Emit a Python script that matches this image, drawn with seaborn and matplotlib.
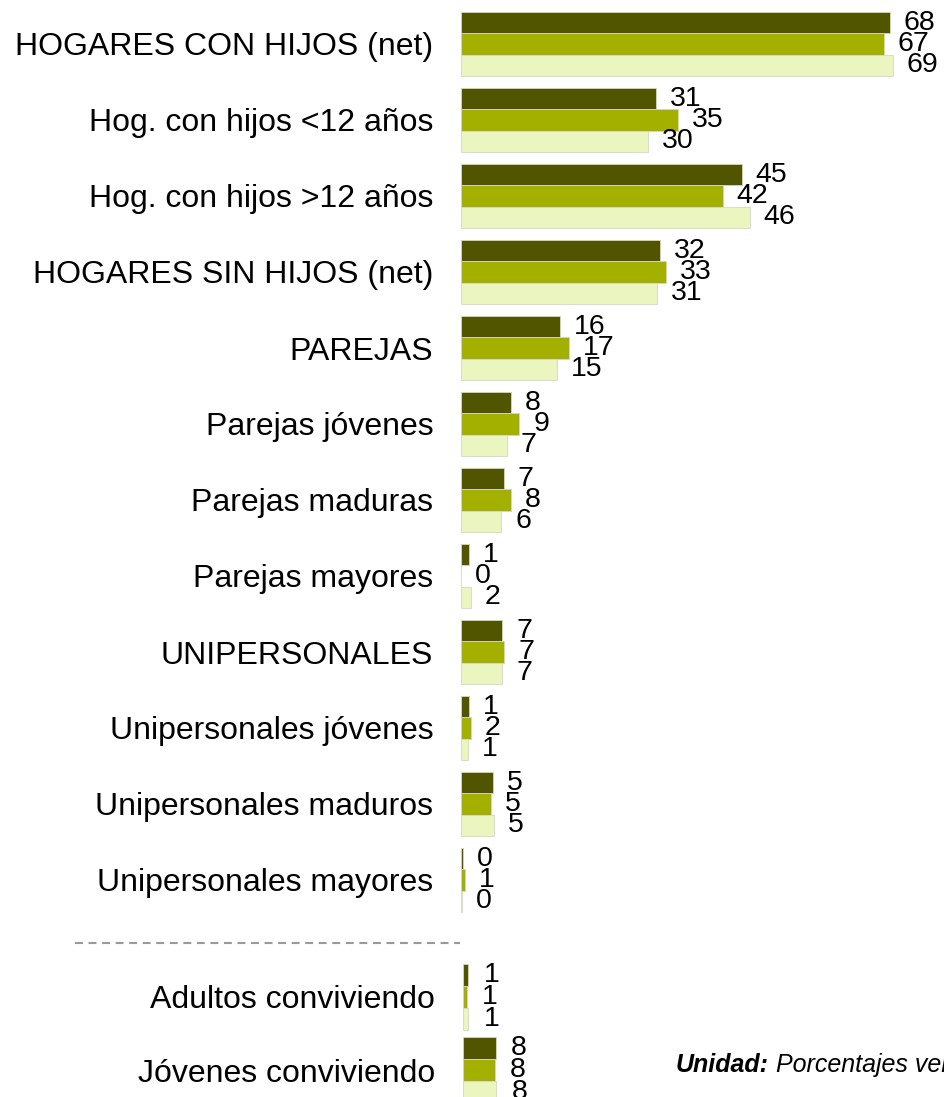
import matplotlib
matplotlib.use("Agg")
import matplotlib.pyplot as plt
from matplotlib.lines import Line2D
import seaborn as sns
import pandas as pd

# main block
categorias = ["HOGARES CON HIJOS (net)", "Hog. con hijos <12 años", "Hog. con hijos >12 años",
              "HOGARES SIN HIJOS (net)", "PAREJAS", "Parejas jóvenes", "Parejas maduras",
              "Parejas mayores", "UNIPERSONALES", "Unipersonales jóvenes",
              "Unipersonales maduros", "Unipersonales mayores"]
serie_1 = [68.3, 31.1, 44.7, 31.7, 15.8, 7.9, 6.8, 1.2, 6.6, 1.3, 5.1, 0.3]
serie_2 = [67.3, 34.6, 41.7, 32.6, 17.2, 9.3, 8.0, 0.0, 6.9, 1.6, 4.8, 0.6]
serie_3 = [68.8, 29.7, 46.0, 31.2, 15.3, 7.3, 6.4, 1.6, 6.6, 1.1, 5.2, 0.2]

# block below the dashed line
categorias_extra = ["Adultos conviviendo", "Jóvenes conviviendo"]
extra_1 = [1.3, 8.0]
extra_2 = [0.9, 7.7]
extra_3 = [1.3, 8.1]

series = ["Serie 1", "Serie 2", "Serie 3"]
colores = ["#525500", "#a3b000", "#ebf5c0"]


def tabla(cats, *valores):
    filas = []
    for nombre, vals in zip(series, valores):
        for c, v in zip(cats, vals):
            filas.append({"categoria": c, "serie": nombre, "valor": v})
    return pd.DataFrame(filas)


def barras(ax, df, cats, ancho, xmax, pad_lbl):
    sns.barplot(data=df, y="categoria", x="valor", hue="serie", order=cats,
                hue_order=series, palette=colores, saturation=1, width=ancho,
                orient="h", legend=False, edgecolor="#d6d6c4", linewidth=0.6, ax=ax)
    for cont in ax.containers:
        ax.bar_label(cont, fmt="{:.0f}", padding=pad_lbl, fontsize=20.5, color="black")
    ax.set_xlim(0, xmax)
    ax.set_ylim(len(cats) - 0.5, -0.5)
    ax.set_xlabel("")
    ax.set_ylabel("")
    ax.set_xticks([])
    ax.tick_params(axis="y", length=0, pad=20, labelsize=23, labelcolor="black")
    sns.despine(ax=ax, left=True, bottom=True)


sns.set_style("white")
plt.rcParams["font.family"] = ["Liberation Sans", "DejaVu Sans"]
plt.rcParams["text.color"] = "black"

W, H = 945, 1097
fig = plt.figure(figsize=(W / 100, H / 100), dpi=100)

ax1 = fig.add_axes([461 / W, (H - 918) / H, 471 / W, 912 / H])
barras(ax1, tabla(categorias, serie_1, serie_2, serie_3), categorias, 0.84, 75, 10)

ax2 = fig.add_axes([463 / W, (H - 1106.5) / H, 469 / W, 146 / H])
barras(ax2, tabla(categorias_extra, extra_1, extra_2, extra_3), categorias_extra, 0.9, 469 / 4.1, 11)

fig.add_artist(Line2D([75 / W, 460 / W], [(H - 943) / H] * 2, transform=fig.transFigure,
                      color="#9a9a9a", linewidth=1.5, dashes=(3.8, 2.7)))

t1 = fig.text(676 / W, (H - 1072) / H, "Unidad:", fontsize=18, fontweight="bold",
              fontstyle="italic", va="baseline", ha="left", color="black")
ax2.annotate("Porcentajes verticales", xy=(1, 0), xycoords=t1, xytext=(5, 0),
             textcoords="offset points", va="bottom", ha="left", fontsize=18,
             fontstyle="italic", color="black", annotation_clip=False)

fig.savefig("out.png", dpi=100)
